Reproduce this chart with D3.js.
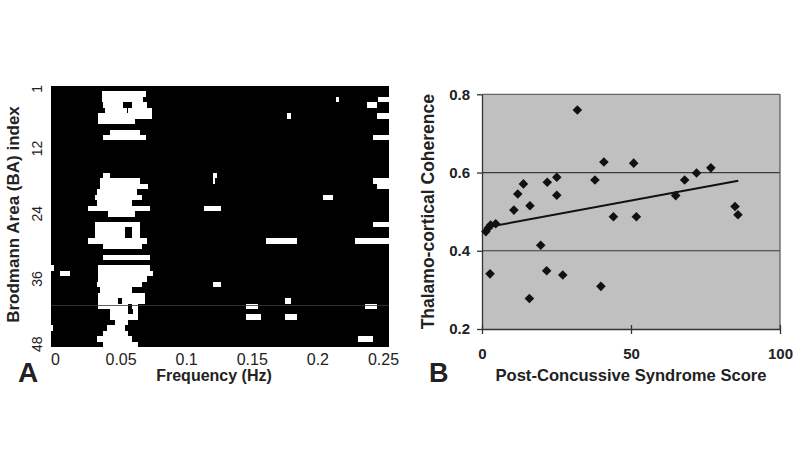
<!DOCTYPE html>
<html><head><meta charset="utf-8">
<script src="https://cdn.jsdelivr.net/npm/d3@7"></script>
<style>body{margin:0;background:#fff} text{font-family:Arial,"Liberation Sans",sans-serif}</style>
</head><body><svg id="c" width="800" height="468"></svg>
<script>
// ---------- Panel A data ----------
const rowCount = 48;
const rowTickLabels = [1, 12, 24, 36, 48];
const freqExtent = [-0.003, 0.2546];
const freqTicks = [0, 0.05, 0.1, 0.15, 0.2, 0.25];
const freqTickLabels = ["0", "0.05", "0.1", "0.15", "0.2", "0.25"];
// white (significant) cells: [BA row, start freq Hz, end freq Hz]
const whiteCells = [
  [2, 0.0356, 0.0694],
  [3, 0.0356, 0.0673], [3, 0.2142, 0.2167], [3, 0.2464, 0.2546],
  [4, 0.0368, 0.0521], [4, 0.0585, 0.0699], [4, 0.2380, 0.2452],
  [5, 0.0380, 0.0546], [5, 0.0560, 0.0737],
  [6, 0.0330, 0.0737], [6, 0.1771, 0.1796], [6, 0.2452, 0.2546],
  [7, 0.0330, 0.0610],
  [9, 0.0419, 0.0648],
  [10, 0.0368, 0.0694], [10, 0.2426, 0.2546],
  [17, 0.0368, 0.0419], [17, 0.1207, 0.1237],
  [18, 0.0343, 0.0648], [18, 0.1207, 0.1222], [18, 0.2426, 0.2546],
  [19, 0.0343, 0.0711], [19, 0.2452, 0.2546],
  [20, 0.0318, 0.0623],
  [21, 0.0305, 0.0661], [21, 0.2040, 0.2121],
  [22, 0.0318, 0.0585],
  [23, 0.0254, 0.0724], [23, 0.1136, 0.1263],
  [24, 0.0406, 0.0610],
  [26, 0.0305, 0.0648], [26, 0.2426, 0.2546],
  [27, 0.0305, 0.0534], [27, 0.0585, 0.0648],
  [28, 0.0305, 0.0534], [28, 0.0585, 0.0648],
  [29, 0.0254, 0.0699], [29, 0.1608, 0.1847], [29, 0.2287, 0.2546],
  [30, 0.0368, 0.0661],
  [32, 0.0368, 0.0724],
  [34, -0.0030, -0.0008], [34, 0.0330, 0.0724],
  [35, 0.0036, 0.0112], [35, 0.0330, 0.0747],
  [36, 0.0330, 0.0699],
  [37, 0.0318, 0.0661], [37, 0.1207, 0.1265],
  [38, 0.0343, 0.0585],
  [39, 0.0330, 0.0684],
  [40, 0.0330, 0.0480], [40, 0.0508, 0.0684], [40, 0.1753, 0.1799],
  [41, 0.0330, 0.0559], [41, 0.0585, 0.0635], [41, 0.1456, 0.1550], [41, 0.2363, 0.2452],
  [42, 0.0419, 0.0559], [42, 0.0595, 0.0635],
  [43, 0.0419, 0.0635], [43, 0.1456, 0.1570], [43, 0.1753, 0.1847],
  [44, 0.0455, 0.0556],
  [45, -0.0030, -0.0015], [45, 0.0394, 0.0534],
  [46, 0.0368, 0.0559],
  [47, 0.0318, 0.0585], [47, 0.2307, 0.2426],
  [48, 0.0368, 0.0635]
];

// ---------- Panel B data ----------
const pcsScore = [1.3, 2.1, 2.9, 4.6, 2.7, 10.7, 12.0, 13.9, 16.1, 15.9, 19.7, 21.9, 21.7, 25.1, 25.1,
                  27.1, 32.0, 37.9, 40.9, 39.9, 44.1, 50.9, 51.8, 65.0, 68.0, 72.0, 76.8, 84.9, 85.9];
const coherence = [0.449, 0.458, 0.466, 0.469, 0.341, 0.504, 0.545, 0.571, 0.515, 0.278, 0.414, 0.575, 0.349, 0.588, 0.542,
                   0.338, 0.760, 0.581, 0.627, 0.309, 0.487, 0.624, 0.487, 0.541, 0.581, 0.599, 0.612, 0.513, 0.492];
const trendX = [1.5, 86];
const trendY = [0.460, 0.579];
const xTicksB = [0, 50, 100];
const yTicksB = [0.2, 0.4, 0.6, 0.8];
const yTickLabelsB = ["0.2", "0.4", "0.6", "0.8"];

const svg = d3.select("#c");

// ================= Panel A =================
const xA = d3.scaleLinear().domain(freqExtent).range([51, 389]);
const yA = d3.scaleBand().domain(d3.range(1, rowCount + 1)).range([86, 347]).padding(0);

const gA = svg.append("g");
gA.append("rect")
  .attr("x", xA(freqExtent[0])).attr("y", 86)
  .attr("width", xA(freqExtent[1]) - xA(freqExtent[0])).attr("height", 261)
  .attr("fill", "#000");

gA.selectAll("rect.cell").data(whiteCells).join("rect")
  .attr("class", "cell")
  .attr("x", d => xA(d[1]))
  .attr("y", d => yA(d[0]))
  .attr("width", d => xA(d[2]) - xA(d[1]))
  .attr("height", yA.bandwidth())
  .attr("fill", "#fff")
  .attr("shape-rendering", "crispEdges");

// faint horizontal seam line
gA.append("line")
  .attr("x1", 51).attr("x2", 389)
  .attr("y1", 305.5).attr("y2", 305.5)
  .attr("stroke", "#3a3a3a").attr("stroke-width", 0.8);

// x axis labels
const axA = d3.axisBottom(xA).tickValues(freqTicks)
  .tickFormat((d, i) => freqTickLabels[i]).tickSize(0).tickPadding(7);
const gax = gA.append("g").attr("transform", "translate(0,347)").call(axA);
gax.select(".domain").remove();
gax.selectAll("text").attr("font-size", 16).attr("fill", "#222")
  .style("font-family", "Arial, 'Liberation Sans', sans-serif");

// y axis labels (rotated)
gA.selectAll("text.ytA").data(rowTickLabels).join("text")
  .attr("class", "ytA")
  .attr("x", 42)
  .attr("y", d => yA(d) + yA.bandwidth() / 2)
  .attr("transform", d => `rotate(-90,42,${yA(d) + yA.bandwidth() / 2})`)
  .attr("text-anchor", "middle")
  .attr("font-size", 14).attr("fill", "#222")
  .text(d => d);

gA.append("text")
  .attr("transform", "translate(19,214.5) rotate(-90)")
  .attr("text-anchor", "middle").attr("font-weight", "bold").attr("font-size", 17).attr("fill", "#222")
  .text("Brodmann Area (BA) index");

gA.append("text")
  .attr("x", 214).attr("y", 381)
  .attr("text-anchor", "middle").attr("font-weight", "bold").attr("font-size", 16).attr("fill", "#222")
  .text("Frequency (Hz)");

gA.append("text")
  .attr("x", 18).attr("y", 382)
  .attr("font-weight", "bold").attr("font-size", 28).attr("fill", "#222")
  .text("A");

// ================= Panel B =================
const xB = d3.scaleLinear().domain([0, 100]).range([482, 780]);
const yB = d3.scaleLinear().domain([0.2, 0.8]).range([329, 94.3]);
const gB = svg.append("g");

gB.append("rect")
  .attr("x", xB(0)).attr("y", yB(0.8))
  .attr("width", xB(100) - xB(0)).attr("height", yB(0.2) - yB(0.8))
  .attr("fill", "#c0c0c0");

// gridlines at 0.4, 0.6 and top border
gB.selectAll("line.grid").data(yTicksB.filter(v => v > 0.2)).join("line")
  .attr("class", "grid")
  .attr("x1", xB(0)).attr("x2", xB(100))
  .attr("y1", d => yB(d)).attr("y2", d => yB(d))
  .attr("stroke", d => d === 0.8 ? "#666" : "#3a3a3a").attr("stroke-width", 1.2);

// right border
gB.append("line")
  .attr("x1", xB(100)).attr("x2", xB(100))
  .attr("y1", yB(0.8)).attr("y2", yB(0.2))
  .attr("stroke", "#555").attr("stroke-width", 1.2);

// y axis
const ayB = d3.axisLeft(yB).tickValues(yTicksB)
  .tickFormat((d, i) => yTickLabelsB[i]).tickSizeInner(5).tickSizeOuter(0).tickPadding(7);
const gay = gB.append("g").attr("transform", `translate(${xB(0)},0)`).call(ayB);
gay.select(".domain").attr("stroke", "#333").attr("stroke-width", 1.3);
gay.selectAll(".tick line").attr("stroke", "#333").attr("stroke-width", 1.3);
gay.selectAll("text").attr("font-size", 15).attr("font-weight", "bold").attr("fill", "#222")
  .style("font-family", "Arial, 'Liberation Sans', sans-serif");

// x axis
const axB = d3.axisBottom(xB).tickValues(xTicksB)
  .tickSizeInner(5).tickSizeOuter(0).tickPadding(14);
const gaxB = gB.append("g").attr("transform", `translate(0,${yB(0.2)})`).call(axB);
gaxB.select(".domain").attr("stroke", "#333").attr("stroke-width", 1.3);
gaxB.selectAll(".tick line").attr("y1", -4).attr("y2", 5).attr("stroke", "#333").attr("stroke-width", 1.3);
gaxB.selectAll("text").attr("font-size", 15).attr("font-weight", "bold").attr("fill", "#222")
  .style("font-family", "Arial, 'Liberation Sans', sans-serif");

// trend line
gB.append("line")
  .attr("x1", xB(trendX[0])).attr("y1", yB(trendY[0]))
  .attr("x2", xB(trendX[1])).attr("y2", yB(trendY[1]))
  .attr("stroke", "#111").attr("stroke-width", 2);

// diamonds
const diamond = d3.symbol().type(d3.symbolSquare).size(46);
gB.selectAll("path.pt").data(pcsScore.map((x, i) => [x, coherence[i]])).join("path")
  .attr("class", "pt")
  .attr("d", diamond)
  .attr("transform", d => `translate(${xB(d[0])},${yB(d[1])}) rotate(45)`)
  .attr("fill", "#111");

gB.append("text")
  .attr("transform", "translate(434,211.7) rotate(-90)")
  .attr("text-anchor", "middle").attr("font-weight", "bold").attr("font-size", 17.5).attr("fill", "#222")
  .text("Thalamo-cortical Coherence");

gB.append("text")
  .attr("x", xB(50)).attr("y", 381)
  .attr("text-anchor", "middle").attr("font-weight", "bold").attr("font-size", 16.6).attr("fill", "#222")
  .text("Post-Concussive Syndrome Score");

gB.append("text")
  .attr("x", 429).attr("y", 382)
  .attr("font-weight", "bold").attr("font-size", 27).attr("fill", "#222")
  .text("B");
</script></body></html>
